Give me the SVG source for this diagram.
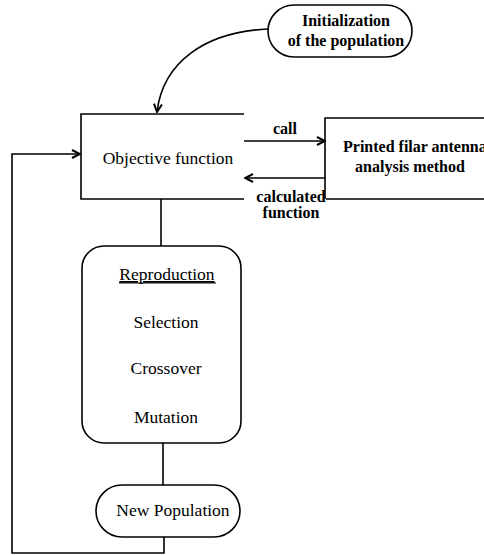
<svg xmlns="http://www.w3.org/2000/svg" width="484" height="555" viewBox="0 0 484 555">
<style>
.ln{fill:none;stroke:#000;stroke-width:1.6}
.t{font-family:"Liberation Serif",serif;font-size:17.5px;fill:#000;text-anchor:middle}
.b{font-family:"Liberation Serif",serif;font-size:16px;font-weight:bold;fill:#000;text-anchor:middle}
</style>
<defs>
<marker id="arr" viewBox="0 0 10 10" refX="9" refY="5" markerWidth="10" markerHeight="10" markerUnits="userSpaceOnUse" orient="auto">
<path d="M1,1 L9,5 L1,9" fill="none" stroke="#000" stroke-width="2"/>
</marker>
</defs>
<rect width="484" height="555" fill="#fff"/>
<g id="connectors">
<path class="ln" d="M268,29 C205,32 163,62 157,112" marker-end="url(#arr)"/>
<path class="ln" d="M244,141 L325,141" marker-end="url(#arr)"/>
<path class="ln" d="M325,178 L245,178" marker-end="url(#arr)"/>
<path class="ln" d="M161,199 L161,246"/>
<path class="ln" d="M163,443 L163,485"/>
<path class="ln" d="M164,537 L164,553 L12,553 L12,154 L80,154" marker-end="url(#arr)"/>
<text class="b" x="285" y="134">call</text>
<text class="b" x="291" y="202">calculated</text>
<text class="b" x="291" y="218">function</text>
</g>
<g id="init">
<rect class="ln" x="268" y="5" width="144" height="52" rx="26"/>
<text class="b" x="346" y="26">Initialization</text>
<text class="b" x="346" y="46">of the population</text>
</g>
<g id="objective">
<path class="ln" d="M244,114 L81,114 L81,199 L244,199"/>
<text class="t" x="168" y="164">Objective function</text>
</g>
<g id="printed">
<path class="ln" d="M484,118 L325,118 L325,199 M326,199 L484,199"/>
<text class="b" x="343" y="152" text-anchor="start" style="text-anchor:start">Printed filar antenna</text>
<text class="b" x="410" y="172">analysis method</text>
</g>
<g id="reproduction">
<rect class="ln" x="82" y="246" width="159" height="197" rx="22"/>
<text class="t" x="167" y="280" text-decoration="underline">Reproduction</text>
<line x1="119" y1="283" x2="216" y2="283" stroke="#000" stroke-width="1"/>
<text class="t" x="166" y="328">Selection</text>
<text class="t" x="166" y="374">Crossover</text>
<text class="t" x="166" y="423">Mutation</text>
</g>
<g id="newpop">
<rect class="ln" x="96" y="485" width="144" height="52" rx="26"/>
<text class="t" x="173" y="516">New Population</text>
</g>
</svg>
